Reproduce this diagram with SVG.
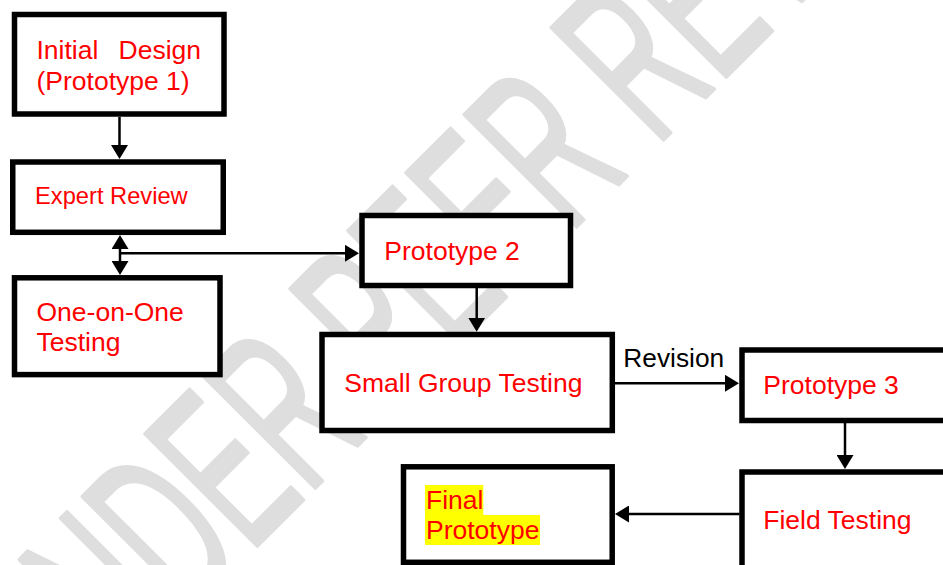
<svg xmlns="http://www.w3.org/2000/svg" width="943" height="565" viewBox="0 0 943 565">
  <style>
    .box { fill: #ffffff; stroke: #000000; stroke-width: 5.5; }
    .lbl { font-family: "Liberation Sans", Arial, sans-serif; font-size: 26.5px; fill: #ff0000; }
    .small { font-size: 23.7px; }
    .edge { stroke: #000000; stroke-width: 2.5; fill: none; }
    .elbl { font-family: "Liberation Sans", Arial, sans-serif; font-size: 26.3px; fill: #000000; }
    .wm { font-family: "Liberation Sans", Arial, sans-serif; font-size: 230px; fill: #dedede; stroke: #dedede; stroke-width: 4; stroke-linejoin: round; }
  </style>
  <defs>
    <marker id="arr" viewBox="0 0 14 17" markerWidth="14" markerHeight="17" refX="10" refY="8.5" orient="auto-start-reverse" markerUnits="userSpaceOnUse">
      <path d="M0,0 L14,8.5 L0,17 Z" fill="#000000"/>
    </marker>
  </defs>
  <rect width="943" height="565" fill="#ffffff"/>
  <g id="watermark">
    <text class="wm" transform="translate(61,742) rotate(-45) scale(0.535,1)">UNDER PEER REVIEW</text>
  </g>
  <g id="node-initial-design">
    <rect class="box" x="14.5" y="14.5" width="209.5" height="99.5"/>
    <text class="lbl"><tspan x="36.5" y="58.5">Initial</tspan><tspan x="118.5" y="58.5">Design</tspan><tspan x="36.5" y="89.5">(Prototype 1)</tspan></text>
  </g>
  <g id="node-expert-review">
    <rect class="box" x="12.75" y="162" width="210.5" height="70.3"/>
    <text class="lbl small" x="35" y="204">Expert Review</text>
  </g>
  <g id="node-one-on-one">
    <rect class="box" x="14.5" y="277.8" width="205.5" height="96.8"/>
    <text class="lbl"><tspan x="36.5" y="321">One-on-One</tspan><tspan x="36.5" y="350.5">Testing</tspan></text>
  </g>
  <g id="node-prototype-2">
    <rect class="box" x="362" y="215.5" width="208.5" height="70"/>
    <text class="lbl" x="384.3" y="260">Prototype 2</text>
  </g>
  <g id="node-small-group">
    <rect class="box" x="322" y="334.5" width="290.3" height="96"/>
    <text class="lbl" x="344.3" y="391.7">Small Group Testing</text>
  </g>
  <g id="node-prototype-3">
    <rect class="box" x="742" y="350" width="230" height="70.5"/>
    <text class="lbl" x="763.3" y="394">Prototype 3</text>
  </g>
  <g id="node-field-testing">
    <rect class="box" x="742" y="472" width="230" height="130"/>
    <text class="lbl" x="763.3" y="528.5">Field Testing</text>
  </g>
  <g id="node-final-prototype">
    <rect class="box" x="403.5" y="466.8" width="208.7" height="95.5"/>
    <rect x="425" y="485" width="58.3" height="30" fill="#ffff00"/>
    <rect x="425" y="515" width="115" height="30" fill="#ffff00"/>
    <text class="lbl"><tspan x="426" y="509.3">Final</tspan><tspan x="426" y="539.3">Prototype</tspan></text>
  </g>
  <g id="connectors">
    <line class="edge" x1="119.5" y1="117" x2="119.5" y2="155" marker-end="url(#arr)"/>
    <line class="edge" x1="120" y1="239" x2="120" y2="271" marker-start="url(#arr)" marker-end="url(#arr)"/>
    <line class="edge" x1="120" y1="253.3" x2="355" y2="253.3" marker-end="url(#arr)"/>
    <line class="edge" x1="476.7" y1="288" x2="476.7" y2="327.7" marker-end="url(#arr)"/>
    <line class="edge" x1="615" y1="383.3" x2="735" y2="383.3" marker-end="url(#arr)"/>
    <text class="elbl" x="623.3" y="366.7">Revision</text>
    <line class="edge" x1="845" y1="423" x2="845" y2="465" marker-end="url(#arr)"/>
    <line class="edge" x1="739.5" y1="514" x2="619" y2="514" marker-end="url(#arr)"/>
  </g>
</svg>
